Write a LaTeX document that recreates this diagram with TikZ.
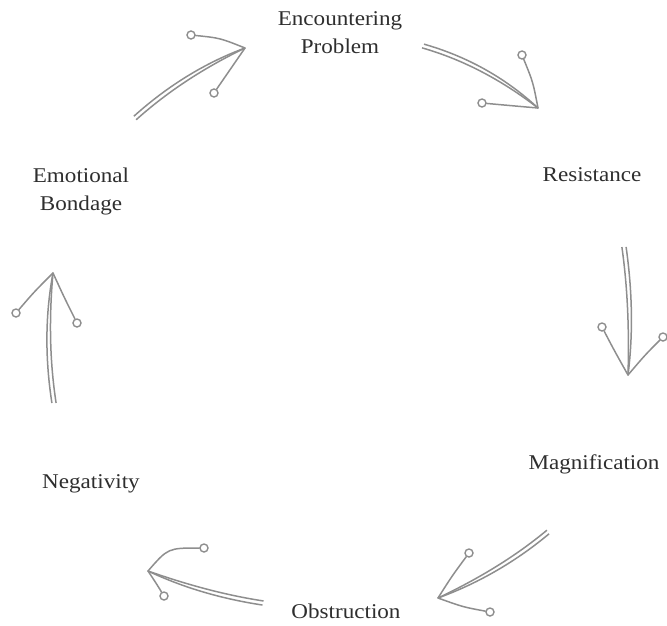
\documentclass[tikz,border=0pt]{standalone}
\usepackage{fontspec}
\setmainfont[FakeStretch=1.1]{Liberation Serif}
\usetikzlibrary{calc}
\definecolor{arr}{HTML}{8E8E8E}
\definecolor{txt}{HTML}{2E2E2E}
\newcommand\cyclearrow[3]{%
  \coordinate (#1-a) at ($(#1)!2/3!(#2)$);
  \coordinate (#1-b) at ($(#3)!2/3!(#2)$);
  \coordinate (#1-u) at ($(#1)!2.1pt!90:(#3)$);
  \coordinate (#1-v) at ($(#1)!2.1pt!-90:(#3)$);
  \draw[shaft] (#1-u) .. controls ($(#1-a)+(#1-u)-(#1)$) and ($(#1-b)+(#1-u)-(#1)$) .. (#3);
  \draw[shaft] (#1-v) .. controls ($(#1-a)+(#1-v)-(#1)$) and ($(#1-b)+(#1-v)-(#1)$) .. (#3);
}
\begin{document}
\begin{tikzpicture}[x=1pt,y=-1pt,
  lbl/.style={font=\fontsize{21}{28}\selectfont, text=txt, align=center, inner sep=0pt},
  shaft/.style={draw=arr, line width=1.5pt},
  barb/.style={draw=arr, line width=1.5pt, line cap=round},
  knob/.style={draw=arr, line width=1.4pt, fill=white, circle, inner sep=0pt, minimum size=8pt}]
\useasboundingbox (0,0) rectangle (667,625);

% labels
\node[lbl, anchor=base] (enc) at (340,53) {Encountering\\Problem};
\node[lbl, anchor=base] (res) at (592,181) {Resistance};
\node[lbl, anchor=base] (mag) at (594,469) {Magnification};
\node[lbl, anchor=base] (obs) at (346,618) {Obstruction};
\node[lbl, anchor=base] (neg) at (91,488) {Negativity};
\node[lbl, anchor=base] (emo) at (81,210) {Emotional\\Bondage};

% arrow 1: Emotional Bondage -> Encountering Problem
\coordinate (t1) at (135,118); \coordinate (c1) at (184,74); \coordinate (p1) at (245,48);
\cyclearrow{t1}{c1}{p1}
\node[knob] (k1a) at (191,35) {};
\node[knob] (k1b) at (214,93) {};
\draw[barb] (p1) .. controls (220,38) .. (k1a);
\draw[barb] (p1) .. controls (231,68) .. (k1b);

% arrow 2: Encountering Problem -> Resistance
\coordinate (t2) at (423,46); \coordinate (c2) at (486,64); \coordinate (p2) at (538,108);
\cyclearrow{t2}{c2}{p2}
\node[knob] (k2a) at (522,55) {};
\node[knob] (k2b) at (482,103) {};
\draw[barb] (p2) .. controls (533,82) .. (k2a);
\draw[barb] (p2) .. controls (515,106) .. (k2b);

% arrow 3: Resistance -> Magnification
\coordinate (t3) at (624,247); \coordinate (c3) at (633,311); \coordinate (p3) at (628,375);
\cyclearrow{t3}{c3}{p3}
\node[knob] (k3a) at (602,327) {};
\node[knob] (k3b) at (663,337) {};
\draw[barb] (p3) .. controls (614,350) .. (k3a);
\draw[barb] (p3) .. controls (645,355) .. (k3b);

% arrow 5: Magnification -> Obstruction
\coordinate (t5) at (548,532); \coordinate (c5) at (500,572); \coordinate (p5) at (438,598);
\cyclearrow{t5}{c5}{p5}
\node[knob] (k5a) at (469,553) {};
\node[knob] (k5b) at (490,612) {};
\draw[barb] (p5) .. controls (452,576) .. (k5a);
\draw[barb] (p5) .. controls (463,607) .. (k5b);

% arrow 6: Obstruction -> Negativity
\coordinate (t6) at (263,603); \coordinate (c6) at (204,594); \coordinate (p6) at (148,571);
\cyclearrow{t6}{c6}{p6}
\node[knob] (k6a) at (204,548) {};
\node[knob] (k6b) at (164,596) {};
\draw[barb] (p6) .. controls (168,548) .. (k6a);
\draw[barb] (p6) .. controls (156,583) .. (k6b);

% arrow 4: Negativity -> Emotional Bondage
\coordinate (t4) at (54,403); \coordinate (c4) at (44,338); \coordinate (p4) at (53,273);
\cyclearrow{t4}{c4}{p4}
\node[knob] (k4a) at (16,313) {};
\node[knob] (k4b) at (77,323) {};
\draw[barb] (p4) .. controls (34,292) .. (k4a);
\draw[barb] (p4) .. controls (64,297) .. (k4b);
\end{tikzpicture}
\end{document}
